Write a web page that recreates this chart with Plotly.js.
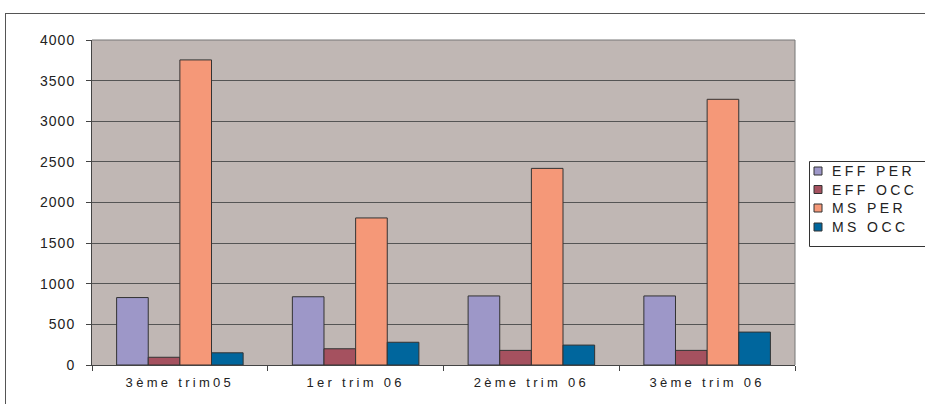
<!DOCTYPE html>
<html><head><meta charset="utf-8">
<script src="https://cdn.plot.ly/plotly-3.0.1.min.js"></script>
<style>
html,body{margin:0;padding:0;background:#fff;}
#frame{position:absolute;left:5px;top:13px;width:930px;height:400px;border:1px solid #555;box-sizing:border-box;pointer-events:none;}
#chart{position:absolute;left:0;top:0;width:925px;height:404px;}
.xtick text{letter-spacing:3.3px;}
.ytick text{letter-spacing:1px;}
.annotation-text{letter-spacing:3.4px;}
</style></head>
<body>
<div id="chart"></div>
<div id="frame"></div>
<script>
const categories = ["3ème trim05", "1er trim 06", "2ème trim 06", "3ème trim 06"];
const seriesNames = ["EFF PER", "EFF OCC", "MS PER", "MS OCC"];
const effPer = [830, 840, 850, 850];
const effOcc = [95, 200, 180, 180];
const msPer = [3755, 1810, 2420, 3270];
const msOcc = [150, 280, 245, 405];
const colors = ["#9D97C8", "#A5515F", "#F59878", "#00669D"];
const values = [effPer, effOcc, msPer, msOcc];

const W = 925, H = 404;
const M = {l: 92, r: 130, t: 40, b: 39};
const pw = W - M.l - M.r, ph = H - M.t - M.b;
const px = x => (x - M.l) / pw;
const py = y => (H - M.b - y) / ph;

const traces = values.map((v, i) => ({
  type: "bar",
  name: seriesNames[i],
  x: categories,
  y: v,
  showlegend: false,
  marker: {color: colors[i], line: {color: "#333333", width: 1}}
}));

// legend drawn from seriesNames / colors
const shapes = [
  {type: "line", xref: "paper", yref: "paper", x0: 0, x1: 1, y0: 1, y1: 1, line: {color: "#777", width: 1}},
  {type: "line", xref: "paper", yref: "paper", x0: 1, x1: 1, y0: 0, y1: 1, line: {color: "#777", width: 1}},
  {type: "rect", xref: "paper", yref: "paper", x0: px(809.5), x1: px(935), y0: py(161.5), y1: py(246.5),
   line: {color: "#333", width: 1}, fillcolor: "#ffffff"}
];
const annotations = [];
const rowY = [171, 189.5, 208, 227];
seriesNames.forEach((n, i) => {
  shapes.push({type: "rect", xref: "paper", yref: "paper",
    x0: px(814), x1: px(822), y0: py(rowY[i] - 4), y1: py(rowY[i] + 4),
    fillcolor: colors[i], line: {color: "#333", width: 1}});
  annotations.push({xref: "paper", yref: "paper", x: px(830), y: py(rowY[i]),
    xanchor: "left", yanchor: "middle", showarrow: false, text: n,
    font: {size: 14, color: "#222"}});
});

const layout = {
  width: W, height: H,
  margin: M,
  paper_bgcolor: "#ffffff",
  plot_bgcolor: "#C0B7B4",
  barmode: "group",
  bargap: 0.28,
  bargroupgap: 0,
  font: {family: "Liberation Sans, Arial, sans-serif", size: 13, color: "#222"},
  showlegend: false,
  xaxis: {
    type: "category",
    tickson: "boundaries",
    ticks: "outside", ticklen: 5, tickcolor: "#444",
    showline: true, linecolor: "#444", linewidth: 1,
    showgrid: false,
    ticklabelstandoff: 5,
    tickfont: {size: 13}
  },
  yaxis: {
    range: [0, 4000],
    dtick: 500,
    ticks: "outside", ticklen: 5, tickcolor: "#444",
    showline: true, linecolor: "#444", linewidth: 1,
    gridcolor: "#555555", gridwidth: 1,
    zeroline: false,
    ticklabelstandoff: 8,
    tickfont: {size: 14}
  },
  shapes: shapes,
  annotations: annotations
};

Plotly.newPlot("chart", traces, layout, {displayModeBar: false, staticPlot: true});
</script>
</body></html>
